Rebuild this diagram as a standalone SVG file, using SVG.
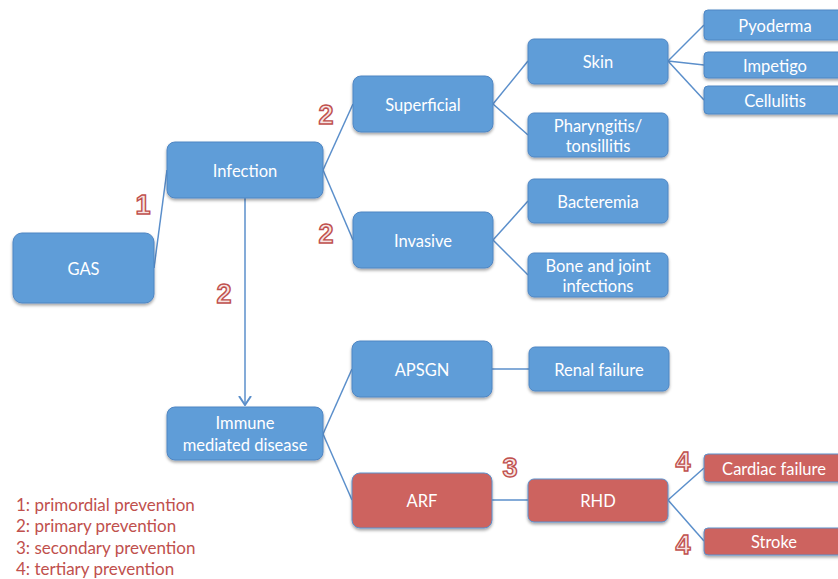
<svg xmlns="http://www.w3.org/2000/svg" width="838" height="579" viewBox="0 0 838 579">
<defs>
<filter id="sh" x="-10%" y="-10%" width="120%" height="140%">
<feDropShadow dx="0" dy="2" stdDeviation="1.5" flood-color="#000" flood-opacity="0.35"/>
</filter>
<marker id="arr" viewBox="0 0 10 14" refX="9" refY="7" markerWidth="10" markerHeight="14" markerUnits="userSpaceOnUse" orient="auto">
<path d="M0,1 L9,7 L0,13" fill="none" stroke="#5b8fcb" stroke-width="2"/>
</marker>
</defs>
<style>
.b rect{fill:#5f9dd8;stroke:#4f86c3;stroke-width:1;filter:url(#sh)}
.r rect{fill:#cd645e;stroke:#5b8fcb;stroke-width:1;filter:url(#sh)}
text.t{font-family:Lato,"Open Sans","Liberation Sans",sans-serif;font-size:16.5px;fill:#fff;text-anchor:middle}
.c line{stroke:#5b8fcb;stroke-width:1.5}
.n{font-family:"Liberation Sans",Arial,sans-serif;font-weight:bold;font-size:27px;fill:#f6e3e2;stroke:#c0504d;stroke-width:1.4;text-anchor:middle}
.lg{font-family:Lato,"Open Sans","Liberation Sans",sans-serif;font-size:17px;fill:#c0504d}
</style>
<rect width="838" height="579" fill="#fff"/>
<g class="c" id="connectors">
<line x1="154" y1="268" x2="167" y2="170"/>
<line x1="323" y1="170" x2="353" y2="104"/>
<line x1="323" y1="170" x2="353" y2="240"/>
<line x1="245" y1="198" x2="245" y2="405" marker-end="url(#arr)"/>
<line x1="493" y1="104" x2="528" y2="61"/>
<line x1="493" y1="104" x2="528" y2="135"/>
<line x1="668" y1="61" x2="704" y2="25"/>
<line x1="668" y1="61" x2="704" y2="65"/>
<line x1="668" y1="61" x2="704" y2="100"/>
<line x1="493" y1="240" x2="528" y2="201"/>
<line x1="493" y1="240" x2="528" y2="275"/>
<line x1="323" y1="434" x2="352" y2="369"/>
<line x1="323" y1="434" x2="352" y2="500"/>
<line x1="492" y1="369" x2="529" y2="369"/>
<line x1="492" y1="500" x2="528" y2="500"/>
<line x1="668" y1="500" x2="704" y2="468"/>
<line x1="668" y1="500" x2="704" y2="541"/>
</g>
<g id="gas" class="b"><rect x="13" y="233" width="141" height="70" rx="9"/><text class="t" x="83.5" y="275">GAS</text></g>
<g id="infection" class="b"><rect x="167" y="142" width="156" height="56" rx="8"/><text class="t" x="245" y="177">Infection</text></g>
<g id="superficial" class="b"><rect x="353" y="76" width="140" height="56" rx="8"/><text class="t" x="423" y="111">Superficial</text></g>
<g id="invasive" class="b"><rect x="353" y="212" width="140" height="56" rx="8"/><text class="t" x="423" y="247">Invasive</text></g>
<g id="skin" class="b"><rect x="528" y="39" width="140" height="45" rx="6"/><text class="t" x="598" y="68">Skin</text></g>
<g id="pharyngitis" class="b"><rect x="528" y="113" width="140" height="44" rx="6"/><text class="t" x="598" y="132">Pharyngitis/</text><text class="t" x="598" y="152">tonsillitis</text></g>
<g id="pyoderma" class="b"><rect x="704" y="10" width="140" height="30" rx="4"/><text class="t" x="775" y="32">Pyoderma</text></g>
<g id="impetigo" class="b"><rect x="704" y="52" width="140" height="26" rx="4"/><text class="t" x="775" y="72">Impetigo</text></g>
<g id="cellulitis" class="b"><rect x="704" y="86" width="140" height="28" rx="4"/><text class="t" x="775" y="107">Cellulitis</text></g>
<g id="bacteremia" class="b"><rect x="528" y="179" width="140" height="44" rx="6"/><text class="t" x="598" y="208">Bacteremia</text></g>
<g id="bone" class="b"><rect x="528" y="253" width="140" height="44" rx="6"/><text class="t" x="598" y="272">Bone and joint</text><text class="t" x="598" y="292">infections</text></g>
<g id="immune" class="b"><rect x="167" y="407" width="156" height="53" rx="8"/><text class="t" x="245" y="429">Immune</text><text class="t" x="245" y="451">mediated disease</text></g>
<g id="apsgn" class="b"><rect x="352" y="341" width="140" height="56" rx="8"/><text class="t" x="422" y="376">APSGN</text></g>
<g id="renal" class="b"><rect x="529" y="347" width="140" height="44" rx="6"/><text class="t" x="599" y="376">Renal failure</text></g>
<g id="arf" class="r"><rect x="352" y="473" width="140" height="55" rx="8"/><text class="t" x="422" y="507">ARF</text></g>
<g id="rhd" class="r"><rect x="528" y="479" width="140" height="43" rx="6"/><text class="t" x="598" y="507">RHD</text></g>
<g id="cardiac" class="r"><rect x="704" y="454" width="140" height="28" rx="4"/><text class="t" x="774" y="475">Cardiac failure</text></g>
<g id="stroke" class="r"><rect x="704" y="528" width="140" height="27" rx="4"/><text class="t" x="774" y="548">Stroke</text></g>
<g id="labels">
<text class="n" x="143" y="214">1</text>
<text class="n" x="326" y="124">2</text>
<text class="n" x="326" y="243">2</text>
<text class="n" x="224" y="303">2</text>
<text class="n" x="510" y="477">3</text>
<text class="n" x="683" y="471">4</text>
<text class="n" x="683" y="554">4</text>
</g>
<g id="legend">
<text class="lg" x="16" y="511">1: primordial prevention</text>
<text class="lg" x="16" y="532">2: primary prevention</text>
<text class="lg" x="16" y="554">3: secondary prevention</text>
<text class="lg" x="16" y="575">4: tertiary prevention</text>
</g>
</svg>
